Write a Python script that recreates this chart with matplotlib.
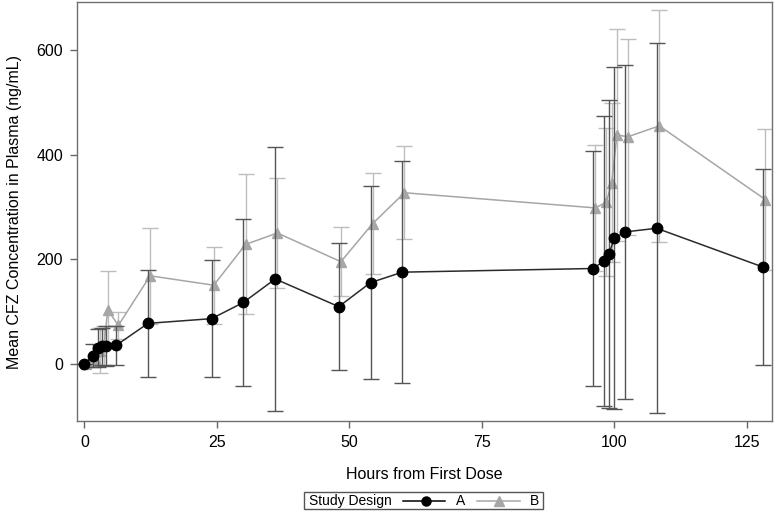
import matplotlib
matplotlib.use("Agg")
import matplotlib.pyplot as plt
from matplotlib.lines import Line2D
from matplotlib.patches import Rectangle

plt.rcParams['font.family'] = ['Liberation Sans', 'DejaVu Sans']

# Study design A (mean +/- SD)
hours_a = [0, 1.7, 2.6, 3.3, 4.0, 6, 12, 24, 30, 36, 48, 54, 60, 96, 98, 99, 100, 102, 108, 128]
mean_a = [0, 15, 30, 33, 33, 35, 77, 86, 117, 162, 109, 155, 175, 182, 196, 210, 240, 252, 259, 185]
sd_a = [0, 22, 37, 35, 38, 37, 102, 112, 160, 253, 121, 185, 212, 224, 278, 295, 327, 320, 354, 188]

# Study design B (mean +/- SD)
hours_b = [0.3, 2.1, 3.0, 3.7, 4.4, 6.4, 12.4, 24.4, 30.4, 36.4, 48.4, 54.4, 60.4, 96.4, 98.5, 99.5, 100.5, 102.5, 108.5, 128.5]
mean_b = [0, 5, 25, 35, 103, 73, 168, 150, 228, 250, 195, 268, 327, 298, 309, 346, 438, 434, 455, 314]
sd_b = [0, 10, 43, 37, 74, 25, 92, 74, 134, 106, 66, 97, 89, 120, 141, 152, 203, 187, 222, 135]

x_ticks = [0, 25, 50, 75, 100, 125]
y_ticks = [0, 200, 400, 600]

fig = plt.figure(figsize=(7.74, 5.11), dpi=100)
ax = fig.add_axes([0.0995, 0.176, 0.8975, 0.82])

ax.errorbar(hours_b, mean_b, yerr=sd_b, fmt='-^', color='#a6a6a6', ecolor='#bdbdbd',
            elinewidth=1.0, capsize=5.5, markersize=7.5, linewidth=1.1, zorder=2)
ax.errorbar(hours_a, mean_a, yerr=sd_a, fmt='-o', color='#2a2a2a', mfc='black', mec='black',
            ecolor='#555555', elinewidth=1.0, capsize=5.5, markersize=7.5, linewidth=1.1, zorder=3)

ax.set_xlim(-1.4, 129.7)
ax.set_ylim(-110, 692)
ax.set_xticks(x_ticks)
ax.set_yticks(y_ticks)
ax.tick_params(labelsize=11.5, length=5, color='#666666', width=1, pad=5)
for s in ax.spines.values():
    s.set_color('#707070')
    s.set_linewidth(1)

ax.set_xlabel('Hours from First Dose', fontsize=11.5, labelpad=12)
ax.set_ylabel('Mean CFZ Concentration in Plasma (ng/mL)', fontsize=11.5, labelpad=10)

# legend strip at the bottom
fig.patches.append(Rectangle((304 / 774, 1 - 509 / 511), 239 / 774, 17 / 511,
                             transform=fig.transFigure, fill=False, edgecolor='#555555', lw=1))
fig.text(309 / 774, 1 - 501 / 511, 'Study Design', fontsize=10, va='center', ha='left')
ly = 1 - 501 / 511
fig.lines.append(Line2D([403 / 774, 445 / 774], [ly, ly], transform=fig.transFigure,
                        color='black', lw=1.1))
fig.lines.append(Line2D([426 / 774], [ly], transform=fig.transFigure, marker='o',
                        color='black', markersize=6.5))
fig.text(456 / 774, ly, 'A', fontsize=10, va='center', ha='left')
fig.lines.append(Line2D([477 / 774, 520 / 774], [ly, ly], transform=fig.transFigure,
                        color='#a6a6a6', lw=1.1))
fig.lines.append(Line2D([499 / 774], [ly], transform=fig.transFigure, marker='^',
                        color='#a6a6a6', markersize=6.5))
fig.text(530 / 774, ly, 'B', fontsize=10, va='center', ha='left')

fig.savefig('out.png', dpi=100)
